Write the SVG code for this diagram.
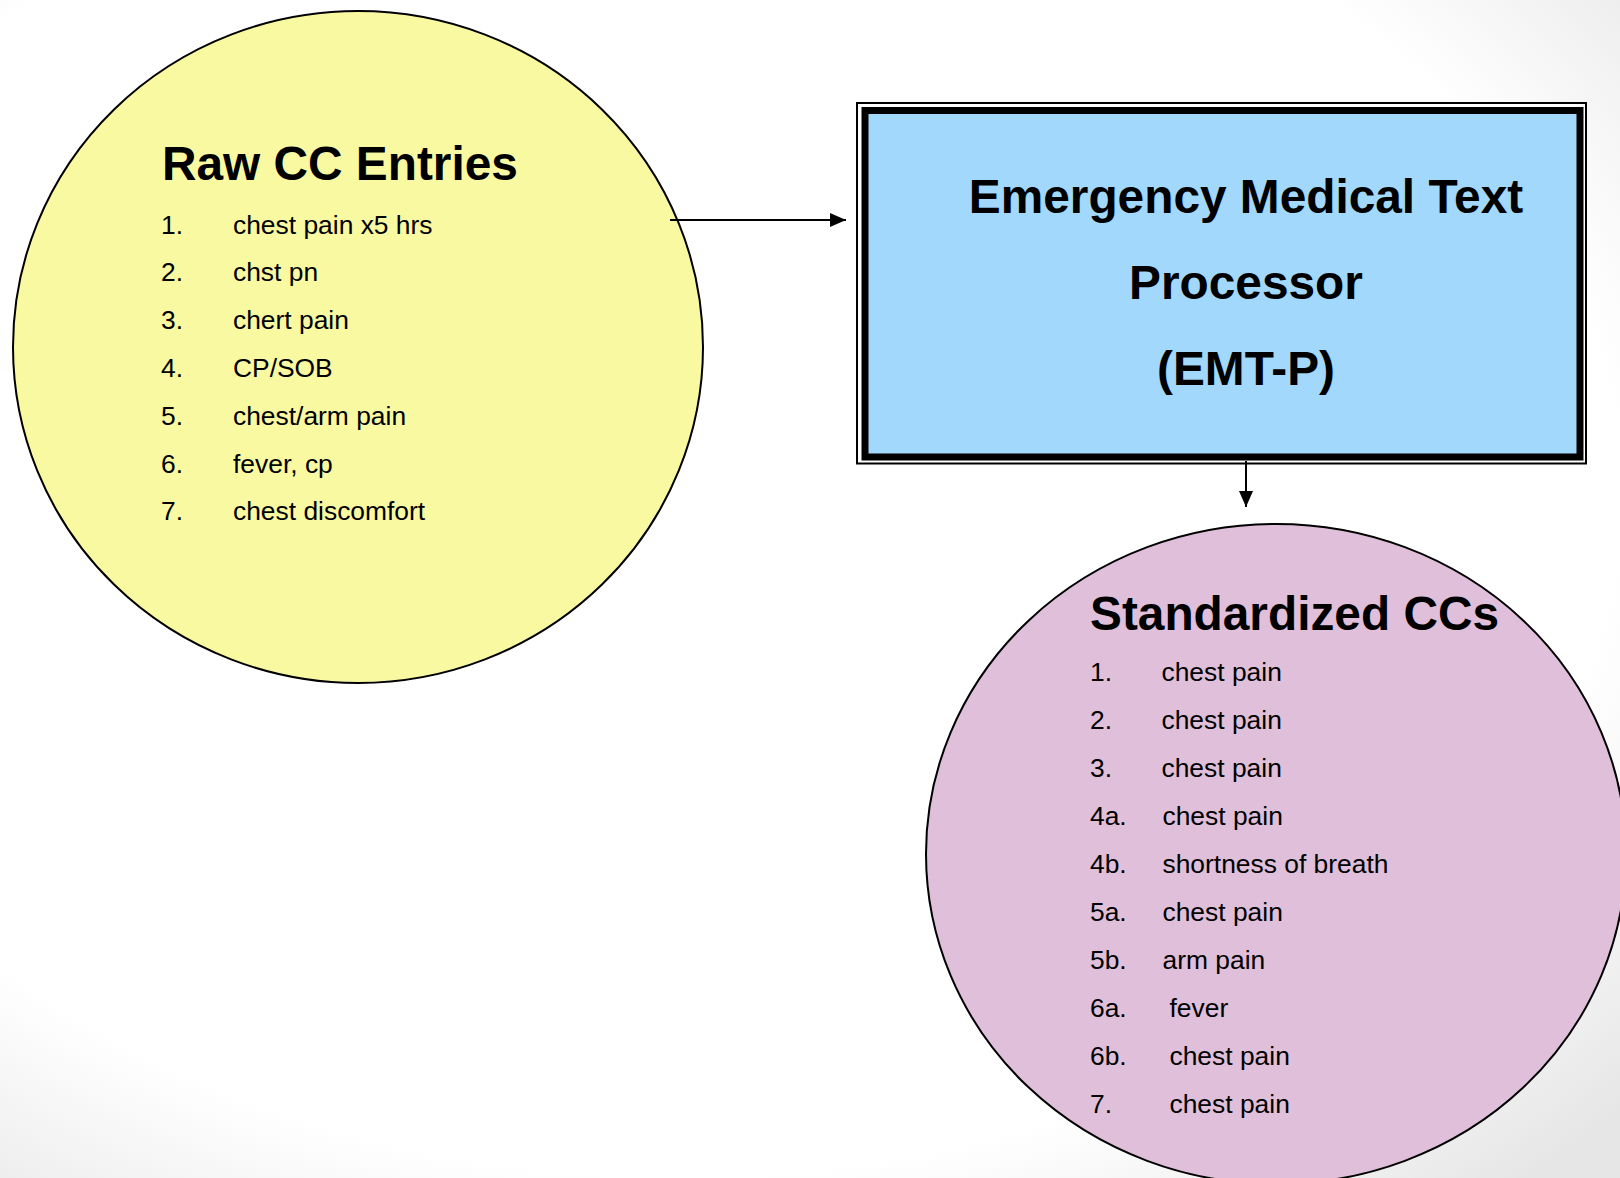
<svg xmlns="http://www.w3.org/2000/svg" width="1620" height="1178" viewBox="0 0 1620 1178">
  <defs>
    <radialGradient id="bg" cx="0.42" cy="0.42" r="0.78">
      <stop offset="0.74" stop-color="#ffffff"/>
      <stop offset="1" stop-color="#e6e6e6"/>
    </radialGradient>
    <marker id="arrow" viewBox="0 0 16 14" refX="16" refY="7" markerWidth="16" markerHeight="14" markerUnits="userSpaceOnUse" orient="auto">
      <path d="M0,0 L16,7 L0,14 Z" fill="#000"/>
    </marker>
    <style>
      .title { font-family: "Liberation Sans", Arial, sans-serif; font-weight: bold; font-size: 47.8px; fill: #000; }
      .item { font-family: "Liberation Sans", Arial, sans-serif; font-size: 26.4px; fill: #000; }
      .edge { stroke: #000; stroke-width: 2; fill: none; }
    </style>
  </defs>
  <rect x="0" y="0" width="1620" height="1178" fill="url(#bg)"/>

  <g id="raw-cc-entries">
    <ellipse cx="358" cy="347" rx="345" ry="336" fill="#f9f9a2" stroke="#000" stroke-width="2"/>
    <text class="title" x="162" y="180">Raw CC Entries</text>
    <text class="item" x="161" y="233.5">1.</text><text class="item" x="233" y="233.5">chest pain x5 hrs</text>
    <text class="item" x="161" y="281.3">2.</text><text class="item" x="233" y="281.3">chst pn</text>
    <text class="item" x="161" y="329.1">3.</text><text class="item" x="233" y="329.1">chert pain</text>
    <text class="item" x="161" y="376.9">4.</text><text class="item" x="233" y="376.9">CP/SOB</text>
    <text class="item" x="161" y="424.7">5.</text><text class="item" x="233" y="424.7">chest/arm pain</text>
    <text class="item" x="161" y="472.5">6.</text><text class="item" x="233" y="472.5">fever, cp</text>
    <text class="item" x="161" y="520.3">7.</text><text class="item" x="233" y="520.3">chest discomfort</text>
  </g>

  <g id="emt-p">
    <rect x="857" y="103" width="729" height="360.5" fill="#ffffff" stroke="#000" stroke-width="2"/>
    <rect x="865" y="110.5" width="715" height="346.5" fill="#a1d8fb" stroke="#000" stroke-width="7"/>
    <text class="title" x="1246" y="213" text-anchor="middle">Emergency Medical Text</text>
    <text class="title" x="1246" y="299" text-anchor="middle">Processor</text>
    <text class="title" x="1246" y="385" text-anchor="middle">(EMT-P)</text>
  </g>

  <g id="standardized-ccs">
    <ellipse cx="1276" cy="854" rx="350" ry="330" fill="#dfbfd9" stroke="#000" stroke-width="2"/>
    <text class="title" x="1090" y="630">Standardized CCs</text>
    <text class="item" x="1090" y="681">1.</text><text class="item" x="1161.5" y="681">chest pain</text>
    <text class="item" x="1090" y="729">2.</text><text class="item" x="1161.5" y="729">chest pain</text>
    <text class="item" x="1090" y="777">3.</text><text class="item" x="1161.5" y="777">chest pain</text>
    <text class="item" x="1090" y="825">4a.</text><text class="item" x="1162.5" y="825">chest pain</text>
    <text class="item" x="1090" y="873">4b.</text><text class="item" x="1162.5" y="873">shortness of breath</text>
    <text class="item" x="1090" y="921">5a.</text><text class="item" x="1162.5" y="921">chest pain</text>
    <text class="item" x="1090" y="969">5b.</text><text class="item" x="1162.5" y="969">arm pain</text>
    <text class="item" x="1090" y="1017">6a.</text><text class="item" x="1169.5" y="1017">fever</text>
    <text class="item" x="1090" y="1065">6b.</text><text class="item" x="1169.5" y="1065">chest pain</text>
    <text class="item" x="1090" y="1113">7.</text><text class="item" x="1169.5" y="1113">chest pain</text>
  </g>

  <g id="connectors">
    <line class="edge" x1="670" y1="220" x2="846" y2="220" marker-end="url(#arrow)"/>
    <line class="edge" x1="1246" y1="461" x2="1246" y2="507" marker-end="url(#arrow)"/>
  </g>
</svg>
